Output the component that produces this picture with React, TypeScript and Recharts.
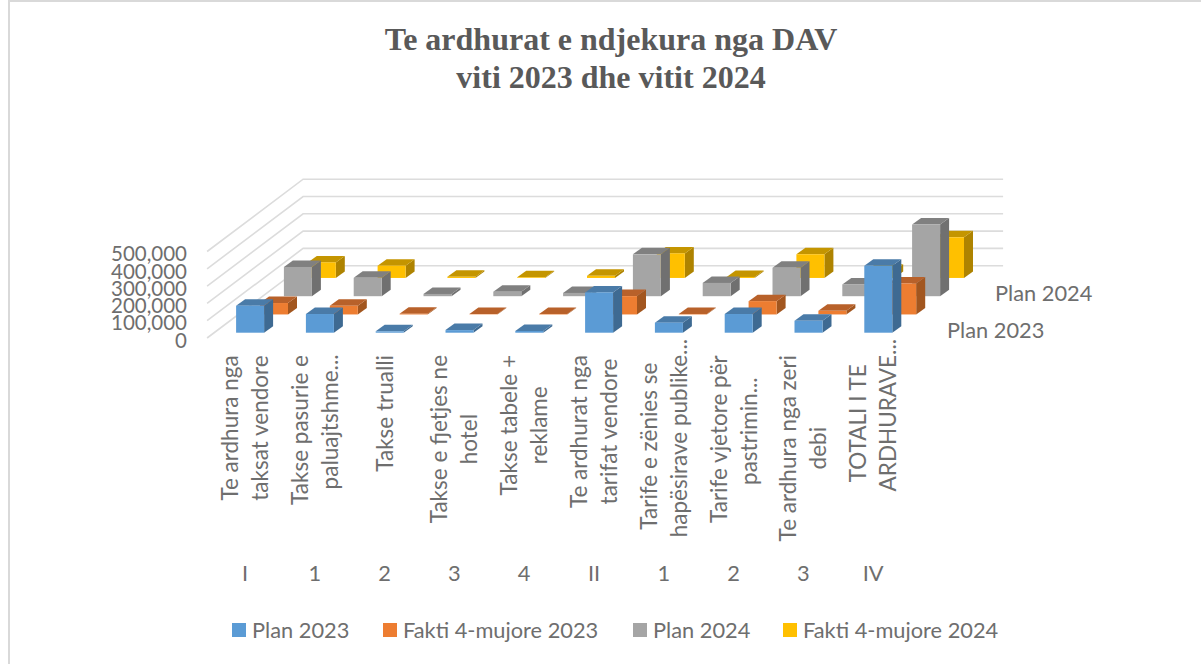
import { ComposedChart, Bar, XAxis, YAxis, CartesianGrid, Legend } from 'recharts'

const groups = ['I', '1', '2', '3', '4', 'II', '1', '2', '3', 'IV']
const labels = [
  ['Te ardhura nga', 'taksat vendore'],
  ['Takse pasurie e', 'paluajtshme...'],
  ['Takse trualli'],
  ['Takse e fjetjes ne', 'hotel'],
  ['Takse tabele +', 'reklame'],
  ['Te ardhurat nga', 'tarifat vendore'],
  ['Tarife e zënies se', 'hapësirave publike...'],
  ['Tarife vjetore për', 'pastrimin...'],
  ['Te ardhura nga zeri', 'debi'],
  ['TOTALI I TE', 'ARDHURAVE...'],
]
const plan2023 = [156000, 108000, 8000, 15000, 10000, 233000, 58000, 108000, 69000, 387000]
const fakti2023 = [66000, 50000, 4000, 2000, 3000, 106000, 3000, 77000, 21000, 179000]
const plan2024 = [169000, 106000, 13000, 26000, 19000, 242000, 77000, 164000, 68000, 414000]
const fakti2024 = [90000, 71000, 7000, 4000, 12000, 142000, 6000, 137000, 42000, 235000]
const yTicks = [0, 100000, 200000, 300000, 400000, 500000]

const data = labels.map((l, i) => ({
  key: i,
  plan2023: plan2023[i],
  fakti2023: fakti2023[i],
  plan2024: plan2024[i],
  fakti2024: fakti2024[i],
}))

const FONT = 'Lato, sans-serif'
const TEXT = '#6e6e6e'
const LABEL_SIZE = 22.5

const colors = {
  plan2023: { front: '#5b9bd5', side: '#3e6a92', top: '#4a7ba8', name: 'Plan 2023', slot: 151 },
  fakti2023: { front: '#ed7d31', side: '#a2561f', top: '#b8612a', name: 'Fakti 4-mujore 2023', slot: 250 },
  plan2024: { front: '#a5a5a5', side: '#707070', top: '#808080', name: 'Plan 2024', slot: 150 },
  fakti2024: { front: '#ffc000', side: '#ae8300', top: '#c49500', name: 'Fakti 4-mujore 2024', slot: 220 },
}

// one row further back on the depth axis
const ROW_DX = 23.9
const ROW_DY = -18.25
// depth of a single box
const BOX_DX = 9
const BOX_DY = -6.5

function box(row: number, c: { front: string; side: string; top: string }) {
  return (props: any) => {
    const x = props.x + row * ROW_DX
    const y = props.y + row * ROW_DY
    const w = props.width
    const h = props.height
    return (
      <g>
        <polygon
          points={`${x + w},${y} ${x + w + BOX_DX},${y + BOX_DY} ${x + w + BOX_DX},${y + h + BOX_DY} ${x + w},${y + h}`}
          fill={c.side}
        />
        <polygon
          points={`${x},${y} ${x + BOX_DX},${y + BOX_DY} ${x + w + BOX_DX},${y + BOX_DY} ${x + w},${y}`}
          fill={c.top}
        />
        <rect x={x} y={y} width={w} height={h} fill={c.front} />
      </g>
    )
  }
}

// floor/wall gridline: front left corner, back left corner, back right corner
function wallLine(props: any) {
  const { y1, x1, x2 } = props
  const pts = `${x1 - 8},${y1 + 5.3} ${x1 + 88},${y1 - 67} ${x2 + 90},${y1 - 67}`
  return <polyline key={props.key ?? y1} points={pts} fill="none" stroke="#dcdcdc" strokeWidth={1.6} />
}

function YTick(props: any) {
  const v = Number(props.payload.value)
  return (
    <text x={187} y={props.y + 15} textAnchor="end" fontFamily={FONT} fontSize={20.5} fill={TEXT}>
      {v.toLocaleString('en-US')}
    </text>
  )
}

const measure = document.createElement('canvas').getContext('2d')

function textWidth(t: string) {
  if (!measure) return t.length * 10.5
  measure.font = `${LABEL_SIZE}px Lato`
  return measure.measureText(t).width
}

function XTick(props: any) {
  const i = props.payload.index
  const lines = labels[i]
  const cx = props.x - 4
  const start = cx - ((lines.length - 1) * 30) / 2
  // lines are centred on each other, the longest one starts just under the plot
  const widths = lines.map(textWidth)
  const longest = Math.max(...widths)
  const trimmed = (t: string) => (t.endsWith('...') ? 8 : 0)
  const blockShift = lines.some((t, n) => trimmed(t) && widths[n] === longest) ? 8 : 0
  const mid = 355 + longest / 2 - blockShift
  return (
    <g>
      {lines.map((t, n) => (
        <text
          key={n}
          transform={`translate(${start + n * 30 + 7},${mid - trimmed(t)}) rotate(-90)`}
          textAnchor="middle"
          fontFamily={FONT}
          fontSize={LABEL_SIZE}
          fill={TEXT}
        >
          {t}
        </text>
      ))}
      <text x={props.x - 5} y={581} textAnchor="middle" fontFamily={FONT} fontSize={21.8} fill={TEXT}>
        {groups[i]}
      </text>
    </g>
  )
}

function LegendRow() {
  const order = [colors.plan2023, colors.fakti2023, colors.plan2024, colors.fakti2024]
  return (
    <div style={{ display: 'flex', fontFamily: FONT, fontSize: 21.8, color: TEXT, lineHeight: '26px' }}>
      {order.map(c => (
        <div key={c.name} style={{ display: 'flex', alignItems: 'center', width: c.slot }}>
          <span style={{ width: 14, height: 14, background: c.front, marginRight: 6 }} />
          <span>{c.name}</span>
        </div>
      ))}
    </div>
  )
}

export default function App() {
  return (
    <div style={{ position: 'absolute', left: 0, top: 0, width: 1201, height: 664, background: '#fff', overflow: 'hidden' }}>
      <div style={{ position: 'absolute', left: 8, top: 0, right: 0, height: 2, background: '#d9d9d9' }} />
      <div style={{ position: 'absolute', left: 8, top: 0, bottom: 0, width: 2, background: '#d9d9d9' }} />
      <div
        style={{
          position: 'absolute',
          left: 0,
          width: 1222,
          top: 20,
          textAlign: 'center',
          fontFamily: '"Liberation Serif", serif',
          fontWeight: 700,
          fontSize: 32,
          lineHeight: '38px',
          color: '#595959',
        }}
      >
        Te ardhurat e ndjekura nga DAV
        <br />
        viti 2023 dhe vitit 2024
      </div>
      <div style={{ position: 'absolute', left: 947, top: 316, fontFamily: FONT, fontSize: 21.8, color: TEXT }}>Plan 2023</div>
      <div style={{ position: 'absolute', left: 995, top: 279, fontFamily: FONT, fontSize: 21.8, color: TEXT }}>Plan 2024</div>
      <ComposedChart
        width={1201}
        height={664}
        data={data}
        barSize={28}
        barGap={-28}
        margin={{ top: 246.2, left: 155.1, right: 287.9, bottom: 51.3 }}
      >
        <CartesianGrid vertical={false} horizontal={wallLine} />
        <XAxis dataKey="key" axisLine={false} tickLine={false} height={250} interval={0} tick={XTick} />
        <YAxis width={60} domain={[0, 500000]} ticks={yTicks} interval={0} axisLine={false} tickLine={false} tick={YTick} />
        <Legend
          height={30}
          content={<LegendRow />}
          wrapperStyle={{ position: 'absolute', left: 232, top: 617, width: 900 }}
        />
        <Bar dataKey="fakti2024" name={colors.fakti2024.name} isAnimationActive={false} shape={box(3, colors.fakti2024)} />
        <Bar dataKey="plan2024" name={colors.plan2024.name} isAnimationActive={false} shape={box(2, colors.plan2024)} />
        <Bar dataKey="fakti2023" name={colors.fakti2023.name} isAnimationActive={false} shape={box(1, colors.fakti2023)} />
        <Bar dataKey="plan2023" name={colors.plan2023.name} isAnimationActive={false} shape={box(0, colors.plan2023)} />
      </ComposedChart>
    </div>
  )
}
